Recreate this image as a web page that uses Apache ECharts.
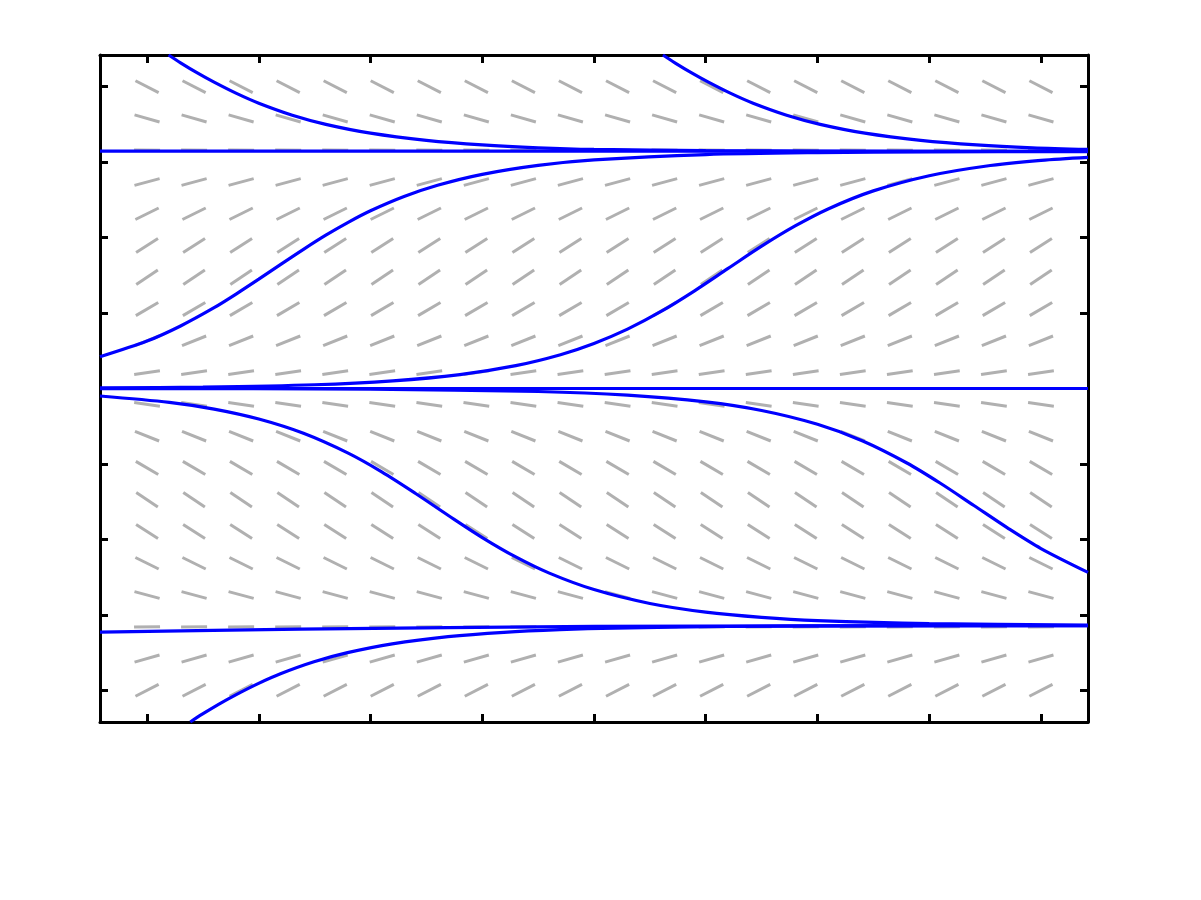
<!DOCTYPE html>
<html>
<head>
<meta charset="utf-8">
<script src="https://cdn.jsdelivr.net/npm/echarts@6/dist/echarts.min.js"></script>
<style>html,body{margin:0;padding:0;background:#fff;}#c{width:1201px;height:900px;}</style>
</head>
<body>
<div id="c"></div>
<script>
// ---- data ----
var xTicks = [0, 1, 2, 3, 4, 5, 6, 7, 8];
var yTicks = [-4, -3, -2, -1, 0, 1, 2, 3, 4];
var xRange = [-0.421, 8.421];
var yRange = [-4.42, 4.42];
// slope-field sample positions
var fieldX = [0, 0.421, 0.842, 1.263, 1.684, 2.105, 2.526, 2.947, 3.368, 3.789,
              4.211, 4.632, 5.053, 5.474, 5.895, 6.316, 6.737, 7.158, 7.579, 8];
var fieldY = [-4, -3.579, -3.158, -2.737, -2.316, -1.895, -1.474, -1.053, -0.632, -0.211,
              0.211, 0.632, 1.053, 1.474, 1.895, 2.316, 2.737, 3.158, 3.579, 4];
// slope of the field on each row (same along a row)
var rowSlopes = [0.757, 0.424, 0.016, -0.394, -0.734, -0.948, -0.995, -0.869, -0.591, -0.209,
                 0.209, 0.591, 0.869, 0.995, 0.948, 0.734, 0.394, -0.016, -0.424, -0.757];

// solution curves
var curveTopA = [[0.193,4.42],[0.3,4.317],[0.45,4.183],[0.6,4.06],[0.8,3.911],[1.0,3.781],
                 [1.3,3.622],[1.6,3.501],[2.0,3.384],[2.5,3.289],[3.0,3.228],[3.5,3.19],
                 [4.0,3.168],[5.0,3.152],[6.0,3.146],[8.421,3.142]];
var curveTopB = [[4.617,4.42],[4.724,4.317],[4.874,4.183],[5.024,4.06],[5.224,3.911],[5.424,3.781],
                 [5.724,3.622],[6.024,3.501],[6.424,3.384],[6.924,3.289],[7.424,3.228],[7.924,3.19],
                 [8.421,3.168]];
var lineTop = [[-0.421,3.147],[4.0,3.145],[8.421,3.143]];
var curveUpC = [[-0.421,0.421],[0,0.629],[0.3,0.829],[0.6,1.071],[0.8,1.255],[1.0,1.449],
                [1.2,1.649],[1.4,1.845],[1.6,2.032],[1.8,2.202],[2.0,2.355],[2.3,2.544],
                [2.6,2.693],[3.0,2.838],[3.5,2.957],[4.0,3.029],[5.0,3.1],[6.0,3.126],
                [7.0,3.136],[8.421,3.14]];
var curveUpD = [[-0.421,0.007],[0.5,0.019],[1.5,0.05],[2.2,0.102],[2.8,0.185],[3.3,0.303],
                [3.7,0.448],[4.0,0.597],[4.3,0.787],[4.6,1.021],[4.9,1.295],[5.2,1.591],
                [5.5,1.886],[5.8,2.154],[6.1,2.383],[6.5,2.619],[7.0,2.82],[7.5,2.946],
                [8.0,3.023],[8.421,3.063]];
var lineMid = [[-0.421,0],[8.421,0]];
var curveLowE = [[-0.421,-0.099],[0.2,-0.184],[0.6,-0.273],[1.0,-0.405],[1.4,-0.594],[1.8,-0.857],
                 [2.1,-1.105],[2.4,-1.388],[2.7,-1.686],[3.0,-1.975],[3.3,-2.232],[3.6,-2.447],
                 [4.0,-2.665],[4.5,-2.849],[5.0,-2.964],[5.5,-3.033],[6.0,-3.076],[7.0,-3.117],
                 [8.421,-3.136]];
var curveLowF = [[-0.421,-0.001],[2.0,-0.009],[3.5,-0.04],[4.3,-0.088],[5.0,-0.177],[5.5,-0.291],
                 [6.0,-0.474],[6.4,-0.692],[6.8,-0.987],[7.1,-1.256],[7.4,-1.551],[7.7,-1.847],
                 [8.0,-2.121],[8.421,-2.437]];
var lineBottom = [[-0.421,-3.23],[1.370,-3.19],[4.006,-3.153],[8.421,-3.144]];
var curveBotH = [[0.387,-4.42],[0.494,-4.317],[0.644,-4.183],[0.794,-4.06],[0.994,-3.911],
                 [1.194,-3.781],[1.494,-3.622],[1.794,-3.501],[2.194,-3.384],[2.694,-3.289],
                 [3.194,-3.231],[3.694,-3.196],[4.194,-3.175],[5.194,-3.154],[6.194,-3.146],
                 [8.421,-3.142]];

var curves = [curveTopA, curveTopB, lineTop, curveUpC, curveUpD, lineMid,
              curveLowE, curveLowF, lineBottom, curveBotH];

// ---- chart ----
var fieldData = [];
for (var j = 0; j < fieldY.length; j++) {
  for (var i = 0; i < fieldX.length; i++) {
    fieldData.push([fieldX[i], fieldY[j], rowSlopes[j]]);
  }
}
var DASH_LEN = 26;

function axisCommon(pos, ticks) {
  return {
    type: 'value', position: pos, min: null, max: null,
    axisLine: { show: true, onZero: false, lineStyle: { color: '#000', width: 3 } },
    axisTick: { show: true, inside: true, length: 8, customValues: ticks,
                lineStyle: { color: '#000', width: 3 } },
    axisLabel: { show: false },
    splitLine: { show: false }
  };
}
var xA = axisCommon('bottom', xTicks); xA.min = xRange[0]; xA.max = xRange[1];
var xB = axisCommon('top', xTicks); xB.min = xRange[0]; xB.max = xRange[1];
var yA = axisCommon('left', yTicks); yA.min = yRange[0]; yA.max = yRange[1];
var yB = axisCommon('right', yTicks); yB.min = yRange[0]; yB.max = yRange[1];

var series = [{
  type: 'custom',
  z: 1,
  silent: true,
  encode: { x: 0, y: 1 },
  data: fieldData,
  renderItem: function (params, api) {
    var x = api.value(0), y = api.value(1), s = api.value(2);
    var c = api.coord([x, y]);
    var c2 = api.coord([x + 1, y + s]);
    var dx = c2[0] - c[0], dy = c2[1] - c[1];
    var len = Math.sqrt(dx * dx + dy * dy);
    dx = dx / len * DASH_LEN / 2; dy = dy / len * DASH_LEN / 2;
    return {
      type: 'line',
      shape: { x1: c[0] - dx, y1: c[1] - dy, x2: c[0] + dx, y2: c[1] + dy },
      style: { stroke: '#b0b0b0', lineWidth: 3, lineCap: 'butt' }
    };
  }
}];
curves.forEach(function (cv) {
  series.push({
    type: 'line', z: 3, data: cv, showSymbol: false, symbol: 'none',
    smooth: 0.3, clip: true, silent: true,
    lineStyle: { color: '#0000ff', width: 3.2 }
  });
});

var chart = echarts.init(document.getElementById('c'), null, { renderer: 'canvas' });
chart.setOption({
  backgroundColor: '#ffffff',
  animation: false,
  grid: { left: 100, top: 55, width: 988, height: 667, containLabel: false },
  xAxis: [xA, xB],
  yAxis: [yA, yB],
  series: series
});
</script>
</body>
</html>
